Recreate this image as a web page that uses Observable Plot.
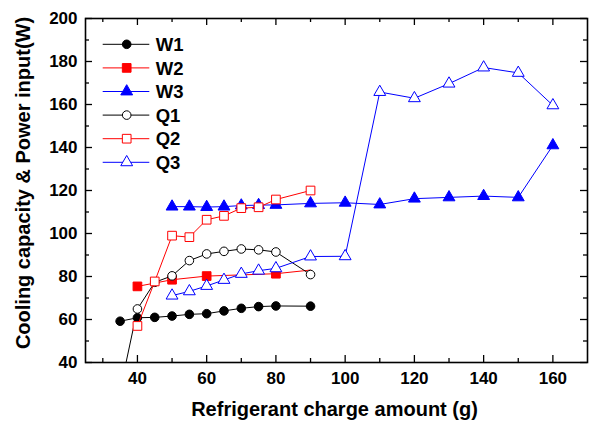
<!DOCTYPE html>
<html><head><meta charset="utf-8">
<script src="https://cdn.jsdelivr.net/npm/d3@7"></script>
<script src="https://cdn.jsdelivr.net/npm/@observablehq/plot@0.6"></script>
<style>body{margin:0;background:#fff} svg{display:block}</style>
</head><body><div id="chart"></div><script>
// ---- data ----
const w1X = [35,40,45,50,55,60,65,70,75,80,90];
const w1Y = [59.2,60.8,61.0,61.6,62.4,62.7,64.0,65.2,66.0,66.3,66.2];
const w2X = [40,50,60,80,90];
const w2Y = [75.4,78.5,80.2,81.3,83.0];
const w2Marked = [true,true,true,true,false];
const w3X = [50,55,60,65,70,75,80,90,100,110,120,130,140,150,160];
const w3Y = [112.5,112.5,112.3,112.5,113.0,113.2,113.3,114.0,114.3,113.5,116.2,116.8,117.4,116.8,141.0];
const q1X = [35,40,45,50,55,60,65,70,75,80,90];
const q1Y = [27,64.9,77.3,80.3,87.4,90.5,91.7,92.8,92.4,91.4,80.9];
const q2X = [40,45,50,55,60,65,70,75,80,90];
const q2Y = [57.0,77.7,99.0,98.3,106.4,108.2,111.8,112.2,115.8,120.0];
const q3X = [50,55,60,65,70,75,80,90,100,110,120,130,140,150,160];
const q3Y = [71.1,73.1,75.6,78.4,81.2,82.7,83.8,89.3,89.4,165.8,162.9,169.7,177.2,174.7,159.6];
const seriesNames = ["W1","W2","W3","Q1","Q2","Q3"];
const xMajor = [40,60,80,100,120,140,160];
const xMinor = [30,50,70,90,110,130,150];
const yMajor = [40,60,80,100,120,140,160,180,200];
const yMinor = [50,70,90,110,130,150,170,190];
const xTitle = "Refrigerant charge amount (g)";
const yTitle = "Cooling capacity & Power input(W)";

// ---- styles ----
const styles = {
  W1: {color: "#000", symbol: "circle", filled: true, r: 4.3},
  W2: {color: "#ff0000", symbol: "square", filled: true, r: 4.9},
  W3: {color: "#0000ff", symbol: "triangle", filled: true, r: 4.4},
  Q1: {color: "#000", symbol: "circle", filled: false, r: 4.3},
  Q2: {color: "#ff0000", symbol: "square", filled: false, r: 4.9},
  Q3: {color: "#0000ff", symbol: "triangle", filled: false, r: 4.4}
};
const raw = {
  W1: [w1X, w1Y, null], W2: [w2X, w2Y, w2Marked], W3: [w3X, w3Y, null],
  Q1: [q1X, q1Y, null], Q2: [q2X, q2Y, null], Q3: [q3X, q3Y, null]
};

const W = 592, H = 424;
const mL = 85, mR = 5, mT = 18, mB = 62;
const innerH = H - mT - mB, innerW = W - mL - mR;
const font = "'Liberation Sans', Arial, Helvetica, sans-serif";

const marks = [];
for (const name of seriesNames) {
  const [xs, ys, marked] = raw[name];
  const st = styles[name];
  const data = xs.map((x, i) => ({x, y: ys[i], m: marked ? marked[i] : true}));
  marks.push(Plot.line(data, {x: "x", y: "y", stroke: st.color, strokeWidth: 1, clip: true}));
  marks.push(Plot.dot(data.filter(d => d.m), {
    x: "x", y: "y", symbol: st.symbol, r: st.r,
    fill: st.filled ? st.color : "#fff", stroke: st.color, strokeWidth: 1, clip: true
  }));
}

const plot = Plot.plot({
  width: W, height: H,
  marginLeft: mL, marginRight: mR, marginTop: mT, marginBottom: mB,
  style: {fontFamily: font, color: "#000", background: "#fff", overflow: "visible"},
  x: {domain: [25, 170]},
  y: {domain: [40, 200]},
  marks: [
    ...marks,
    // inward ticks on all four sides
    Plot.tickX(xMajor, {x: d => d, insetTop: innerH - 7, stroke: "#000", strokeWidth: 1.3}),
    Plot.tickX(xMinor, {x: d => d, insetTop: innerH - 4, stroke: "#000", strokeWidth: 1.3}),
    Plot.tickX(xMajor, {x: d => d, insetBottom: innerH - 7, stroke: "#000", strokeWidth: 1.3}),
    Plot.tickX(xMinor, {x: d => d, insetBottom: innerH - 4, stroke: "#000", strokeWidth: 1.3}),
    Plot.tickY(yMajor, {y: d => d, insetRight: innerW - 7, stroke: "#000", strokeWidth: 1.3}),
    Plot.tickY(yMinor, {y: d => d, insetRight: innerW - 4, stroke: "#000", strokeWidth: 1.3}),
    Plot.tickY(yMajor, {y: d => d, insetLeft: innerW - 7, stroke: "#000", strokeWidth: 1.3}),
    Plot.tickY(yMinor, {y: d => d, insetLeft: innerW - 4, stroke: "#000", strokeWidth: 1.3}),
    Plot.axisX({ticks: xMajor, tickSize: 0, tickPadding: 9, label: null, fontSize: 17, fontWeight: "bold"}),
    Plot.axisY({ticks: yMajor, tickSize: 0, tickPadding: 8, label: null, fontSize: 17, fontWeight: "bold"}),
    Plot.frame({stroke: "#000", strokeWidth: 1.6}),
    Plot.text([xTitle], {text: d => d, frameAnchor: "bottom", textAnchor: "middle", dx: -2, dy: 47, fontSize: 20, fontWeight: "bold", lineAnchor: "middle"}),
    Plot.text([yTitle], {text: d => d, frameAnchor: "left", textAnchor: "middle", lineAnchor: "middle", rotate: -90, dx: -62, dy: -7.5, fontSize: 20, fontWeight: "bold"})
  ]
});

// legend inside plot
const svg = d3.select(plot);
const lg = svg.append("g").attr("font-family", font).attr("font-weight", "bold").attr("font-size", 18.5)
  .attr("text-anchor", "start");
seriesNames.forEach((name, i) => {
  const st = styles[name];
  const cy = 44.3 + i * 23.6;
  lg.append("line").attr("x1", 102.7).attr("x2", 149.3).attr("y1", cy).attr("y2", cy)
    .attr("stroke", st.color).attr("stroke-width", 1);
  const sym = {circle: d3.symbolCircle, square: d3.symbolSquare, triangle: d3.symbolTriangle}[st.symbol];
  lg.append("path").attr("d", d3.symbol(sym, st.r * st.r * Math.PI)())
    .attr("transform", `translate(126.7,${cy})`)
    .attr("fill", st.filled ? st.color : "#fff").attr("stroke", st.color).attr("stroke-width", 1);
  lg.append("text").attr("x", 155.7).attr("y", cy).attr("dy", "0.36em").attr("text-anchor", "start")
    .attr("fill", "#000").text(name);
});

document.getElementById("chart").appendChild(plot);
</script></body></html>
